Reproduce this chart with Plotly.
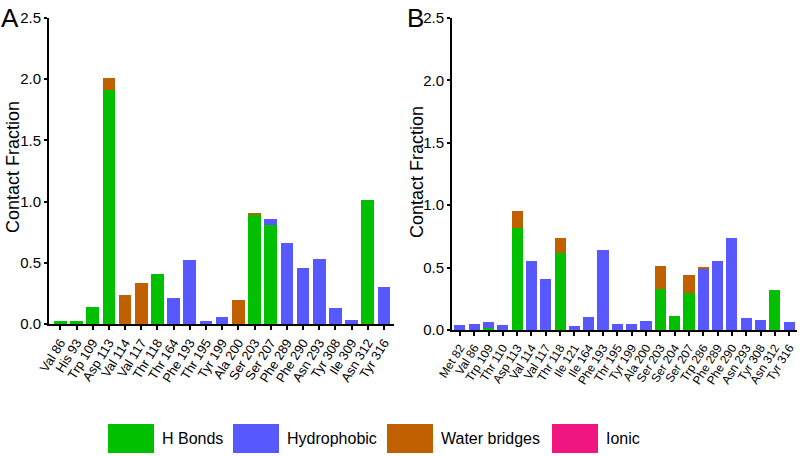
import plotly.graph_objects as go

# ---------------- data ----------------
res_a = ["Val 86", "His 93", "Trp 109", "Asp 113", "Val 114", "Val 117", "Thr 118",
         "Thr 164", "Phe 193", "Thr 195", "Tyr 199", "Ala 200", "Ser 203", "Ser 207",
         "Phe 289", "Phe 290", "Asn 293", "Tyr 308", "Ile 309", "Asn 312", "Tyr 316"]
hb_a = [0.027, 0.027, 0.136, 1.91, 0, 0, 0.41, 0, 0, 0, 0, 0, 0.89, 0.81,
        0, 0, 0, 0, 0, 1.01, 0]
hp_a = [0, 0, 0, 0, 0, 0, 0, 0.21, 0.52, 0.027, 0.06, 0, 0, 0.045,
        0.66, 0.46, 0.53, 0.128, 0.033, 0, 0.30]
wb_a = [0, 0, 0, 0.10, 0.234, 0.332, 0, 0, 0, 0, 0, 0.20, 0.02, 0,
        0, 0, 0, 0, 0, 0, 0]
io_a = [0] * len(res_a)

res_b = ["Met 82", "Val 86", "Trp 109", "Thr 110", "Asp 113", "Val 114", "Val 117",
         "Thr 118", "Ile 121", "Ile 164", "Phe 193", "Thr 195", "Tyr 199", "Ala 200",
         "Ser 203", "Ser 204", "Ser 207", "Trp 286", "Phe 289", "Phe 290", "Asn 293",
         "Tyr 308", "Asn 312", "Tyr 316"]
hb_b = [0, 0, 0.015, 0, 0.82, 0, 0, 0.614, 0, 0, 0, 0, 0, 0,
        0.33, 0.113, 0.295, 0, 0, 0, 0, 0, 0.32, 0]
hp_b = [0.04, 0.05, 0.05, 0.037, 0, 0.555, 0.41, 0, 0.03, 0.107, 0.64, 0.048, 0.048, 0.07,
        0, 0, 0, 0.496, 0.555, 0.735, 0.097, 0.083, 0, 0.064]
wb_b = [0, 0, 0, 0, 0.135, 0, 0, 0.121, 0, 0, 0, 0, 0, 0,
        0.185, 0, 0.142, 0.01, 0, 0, 0, 0, 0, 0]
io_b = [0] * len(res_b)

series_names = ["H Bonds", "Hydrophobic", "Water bridges", "Ionic"]
series_colors = ["#00C000", "#5858FF", "#C06000", "#F0157F"]
y_ticks = [0.0, 0.5, 1.0, 1.5, 2.0, 2.5]

FONT = "Liberation Sans, Arial, sans-serif"

fig = go.Figure()
for vals, name, col in zip([hb_a, hp_a, wb_a, io_a], series_names, series_colors):
    fig.add_trace(go.Bar(x=res_a, y=vals, name=name, marker=dict(color=col, line=dict(width=0)),
                         xaxis="x", yaxis="y", showlegend=False))
for vals, name, col in zip([hb_b, hp_b, wb_b, io_b], series_names, series_colors):
    fig.add_trace(go.Bar(x=res_b, y=vals, name=name, marker=dict(color=col, line=dict(width=0)),
                         xaxis="x2", yaxis="y2", showlegend=False))

H = 456.0
W = 800.0

xcommon = dict(showline=True, linecolor="black", linewidth=2, ticks="outside", ticklen=4,
               tickwidth=1.5, tickcolor="black", tickangle=-58, showgrid=False, zeroline=False,
               type="category", automargin=False)
ycommon = dict(showline=True, linecolor="black", linewidth=2, ticks="outside", ticklen=3,
               tickwidth=1.5, tickcolor="black", showgrid=False, zeroline=False, range=[0, 2.5],
               tickvals=y_ticks, ticktext=[f"{v:.1f}" for v in y_ticks],
               tickfont=dict(family=FONT, size=15, color="black"), automargin=False)

fig.update_layout(
    template="none",
    width=800, height=456,
    margin=dict(l=0, r=0, t=0, b=0, pad=0),
    plot_bgcolor="white", paper_bgcolor="white",
    showlegend=False,
    barmode="stack", bargap=0.22,
    xaxis=dict(xcommon, domain=[49 / W, 394 / W], anchor="y", range=[-0.7, 20.62],
               tickmode="array", tickvals=res_a, ticktext=res_a,
               tickfont=dict(family=FONT, size=13, color="black")),
    yaxis=dict(ycommon, domain=[1 - 324 / H, 1 - 18 / H], anchor="x"),
    xaxis2=dict(xcommon, domain=[452 / W, 797 / W], anchor="y2", range=[-0.55, 23.55],
                tickmode="array", tickvals=res_b, ticktext=res_b,
                tickfont=dict(family=FONT, size=12, color="black")),
    yaxis2=dict(ycommon, domain=[1 - 330 / H, 1 - 18 / H], anchor="x2"),
)

annotations = [
    dict(text="A", x=10 / W, y=1 - 18 / H, xref="paper", yref="paper", showarrow=False,
         font=dict(family=FONT, size=26, color="black"), xanchor="center", yanchor="middle"),
    dict(text="B", x=415 / W, y=1 - 18 / H, xref="paper", yref="paper", showarrow=False,
         font=dict(family=FONT, size=26, color="black"), xanchor="center", yanchor="middle"),
    dict(text="Contact Fraction", x=13 / W, y=1 - 167 / H, xref="paper", yref="paper",
         showarrow=False, textangle=-90, font=dict(family=FONT, size=18, color="black"),
         xanchor="center", yanchor="middle"),
    dict(text="Contact Fraction", x=417 / W, y=1 - 172 / H, xref="paper", yref="paper",
         showarrow=False, textangle=-90, font=dict(family=FONT, size=18, color="black"),
         xanchor="center", yanchor="middle"),
]

# legend drawn as swatches + labels
legend_x = [108, 233, 387, 552]
shapes = []
for lx, name, col in zip(legend_x, series_names, series_colors):
    shapes.append(dict(type="rect", xref="paper", yref="paper",
                       x0=lx / W, x1=(lx + 46) / W, y0=1 - 453 / H, y1=1 - 424 / H,
                       fillcolor=col, line=dict(width=0)))
    annotations.append(dict(text=name, x=(lx + 52) / W, y=1 - 438 / H, xref="paper",
                            yref="paper", showarrow=False, xanchor="left", yanchor="middle",
                            font=dict(family=FONT, size=16, color="black")))

fig.update_layout(annotations=annotations, shapes=shapes)

fig.write_html("out.html", config={"displayModeBar": False},
               post_script="document.body.style.margin='0';document.body.style.padding='0';")
